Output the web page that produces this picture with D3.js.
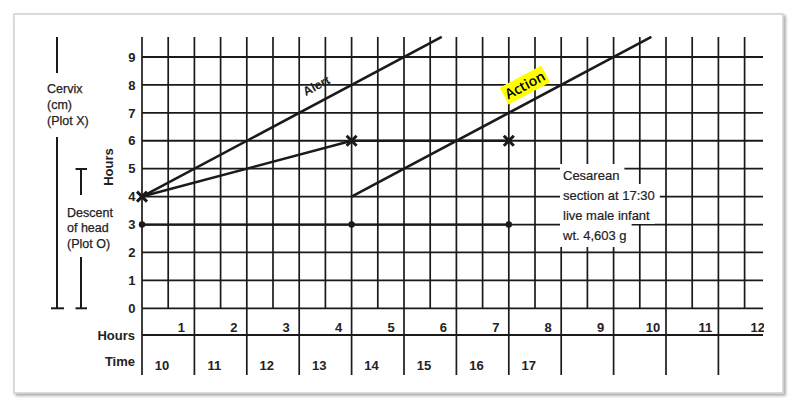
<!DOCTYPE html>
<html>
<head>
<meta charset="utf-8">
<script src="https://cdn.jsdelivr.net/npm/d3@7"></script>
<style>
  html, body { margin: 0; padding: 0; background: #fff; }
  svg { display: block; font-family: "Liberation Sans", Arial, sans-serif; }
</style>
</head>
<body>
<svg id="chart" width="800" height="412"></svg>
<script>
// ---------- data ----------
const cervixHours = [0, 4, 7];
const cervixValues = [4, 6, 6];
const descentHours = [0, 4, 7];
const descentValues = [3, 3, 3];
const alertHours = [0, 5.72];
const alertValues = [4, 9.72];
const actionHours = [4, 9.72];
const actionValues = [4, 9.72];
const yTickValues = [0, 1, 2, 3, 4, 5, 6, 7, 8, 9];
const hourLabels = ["1", "2", "3", "4", "5", "6", "7", "8", "9", "10", "11", "12"];
const timeLabels = ["10", "11", "12", "13", "14", "15", "16", "17"];
const noteLines = ["Cesarean", "section at 17:30", "live male infant", "wt. 4,603 g"];

// ---------- layout ----------
const svg = d3.select("#chart");
const x = d3.scaleLinear().domain([0, 12]).range([142, 770.8]);
const y = d3.scaleLinear().domain([0, 9]).range([308.3, 57]);
const gridTop = 37, hoursRowBottom = 335, timeRowBottom = 375, gridRight = 763;
const ink = "#1a1a1a";

// frame with shadow
const defs = svg.append("defs");
const f = defs.append("filter").attr("id", "sh").attr("x", "-5%").attr("y", "-5%").attr("width", "110%").attr("height", "115%");
f.append("feDropShadow").attr("dx", 2).attr("dy", 2).attr("stdDeviation", 1.6).attr("flood-color", "#000").attr("flood-opacity", 0.35);
defs.append("clipPath").attr("id", "clipR").append("rect").attr("x", 0).attr("y", 0).attr("width", gridRight + 1).attr("height", 412);

svg.append("rect").attr("x", 14).attr("y", 14).attr("width", 769).attr("height", 379)
  .attr("fill", "#fff").attr("stroke", "#cfcfcf").attr("stroke-width", 1.5).attr("filter", "url(#sh)");

const g = svg.append("g");

// ---------- grid ----------
const halfHours = d3.range(0, 11.51, 0.5);
g.selectAll(".vgrid").data(halfHours).join("line")
  .attr("x1", d => x(d)).attr("x2", d => x(d))
  .attr("y1", gridTop).attr("y2", y(0))
  .attr("stroke", ink).attr("stroke-width", 1.7);

const fullHours = d3.range(0, 12);
g.selectAll(".vrow").data(fullHours).join("line")
  .attr("x1", d => x(d)).attr("x2", d => x(d))
  .attr("y1", y(0)).attr("y2", timeRowBottom)
  .attr("stroke", ink).attr("stroke-width", 1.7);

g.selectAll(".hgrid").data(yTickValues).join("line")
  .attr("x1", x(0)).attr("x2", gridRight)
  .attr("y1", d => y(d)).attr("y2", d => y(d))
  .attr("stroke", ink).attr("stroke-width", 1.8);

g.append("line").attr("x1", x(0)).attr("x2", gridRight)
  .attr("y1", hoursRowBottom).attr("y2", hoursRowBottom)
  .attr("stroke", ink).attr("stroke-width", 1.8);

// ---------- axis labels ----------
g.selectAll(".ytick").data(yTickValues).join("text")
  .attr("x", 135.5).attr("y", d => y(d)).attr("dy", "0.36em")
  .attr("text-anchor", "end").attr("font-size", 13).attr("font-weight", "bold").attr("fill", "#222")
  .text(d => d);

const clipG = g.append("g").attr("clip-path", "url(#clipR)");
clipG.selectAll(".hlab").data(hourLabels).join("text")
  .attr("x", (d, i) => x(i + 1) - 13).attr("y", 331.5)
  .attr("text-anchor", "middle").attr("font-size", 13).attr("font-weight", "bold").attr("fill", "#222")
  .text(d => d);

g.selectAll(".tlab").data(timeLabels).join("text")
  .attr("x", (d, i) => x(i) + 20).attr("y", 370)
  .attr("text-anchor", "middle").attr("font-size", 13).attr("font-weight", "bold").attr("fill", "#222")
  .text(d => d);

g.append("text").attr("x", 135).attr("y", 339.5).attr("text-anchor", "end")
  .attr("font-size", 13).attr("font-weight", "bold").attr("fill", "#222").text("Hours");
g.append("text").attr("x", 135).attr("y", 366).attr("text-anchor", "end")
  .attr("font-size", 13).attr("font-weight", "bold").attr("fill", "#222").text("Time");

g.append("text").attr("transform", "translate(113,167) rotate(-90)")
  .attr("text-anchor", "middle").attr("font-size", 13).attr("font-weight", "bold").attr("fill", "#222").text("Hours");

// left side legends
const leftText = (lines, x0, ys) => lines.forEach((t, i) =>
  g.append("text").attr("x", x0).attr("y", ys[i]).attr("font-size", 12.5).attr("fill", "#222")
    .attr("stroke", "#222").attr("stroke-width", 0.25).text(t));
leftText(["Cervix", "(cm)", "(Plot X)"], 47, [93, 108.5, 124.5]);
leftText(["Descent", "of head", "(Plot O)"], 67, [216.5, 232, 247.5]);

const seg = (x1, y1, x2, y2) => g.append("line").attr("x1", x1).attr("y1", y1).attr("x2", x2).attr("y2", y2)
  .attr("stroke", ink).attr("stroke-width", 2);
seg(57, gridTop, 57, 73);
seg(57, 137, 57, y(0));
seg(51, y(0), 64, y(0));
seg(81, 169, 81, 195);
seg(75.5, 169, 87, 169);
seg(81, 257, 81, y(0));
seg(75.5, y(0), 87, y(0));

// ---------- reference lines ----------
const line = d3.line().x(d => x(d[0])).y(d => y(d[1]));
g.append("path").datum(d3.zip(alertHours, alertValues)).attr("d", line)
  .attr("fill", "none").attr("stroke", ink).attr("stroke-width", 2.6);
g.append("path").datum(d3.zip(actionHours, actionValues)).attr("d", line)
  .attr("fill", "none").attr("stroke", ink).attr("stroke-width", 2.6);

// slope angle for labels
const ang = Math.atan2(y(0) - y(1), x(1) - x(0)) * 180 / Math.PI;
const rad = ang * Math.PI / 180;
const nx = -Math.sin(rad), ny = -Math.cos(rad);

const alertH = 3.47;
const ap = [x(alertH) + nx * 16, y(4 + alertH) + ny * 16];
g.append("text").attr("transform", `translate(${ap[0]},${ap[1]}) rotate(${-ang})`)
  .attr("text-anchor", "middle").attr("dy", "0.35em")
  .attr("font-size", 12.5).attr("font-weight", "bold").attr("fill", "#222").text("Alert");

const actH = 7.46;
const cp = [x(actH) + nx * 17, y(actH) + ny * 17];
const actG = g.append("g").attr("transform", `translate(${cp[0]},${cp[1]}) rotate(${-ang})`);
const actT = actG.append("text").attr("text-anchor", "middle").attr("dy", "0.36em")
  .attr("font-family", "'Open Sans', 'Noto Sans', sans-serif")
  .attr("font-size", 14).attr("font-weight", 600).attr("fill", "#000").text("Action");
const bb = actT.node().getBBox();
actG.insert("rect", "text").attr("x", bb.x - 2).attr("y", -9.5).attr("width", bb.width + 4).attr("height", 19)
  .attr("fill", "#ffff00");

// ---------- descent (plot O) ----------
g.append("path").datum(d3.zip(descentHours, descentValues)).attr("d", line)
  .attr("fill", "none").attr("stroke", ink).attr("stroke-width", 2.2);
g.selectAll(".dot").data(d3.zip(descentHours, descentValues)).join("circle")
  .attr("cx", d => x(d[0])).attr("cy", d => y(d[1])).attr("r", 3.2).attr("fill", ink);

// ---------- cervix (plot X) ----------
g.append("path").datum(d3.zip(cervixHours, cervixValues)).attr("d", line)
  .attr("fill", "none").attr("stroke", ink).attr("stroke-width", 2.6);
const s = 5;
g.selectAll(".xm").data(d3.zip(cervixHours, cervixValues)).join("path")
  .attr("d", d => {
    const cx = x(d[0]), cy = y(d[1]);
    return `M${cx - s},${cy - s}L${cx + s},${cy + s}M${cx + s},${cy - s}L${cx - s},${cy + s}`;
  })
  .attr("stroke", ink).attr("stroke-width", 3).attr("fill", "none");

// ---------- note ----------
const noteG = g.append("g");
const noteX = 563, noteY0 = 180, noteDy = 20;
noteLines.forEach((t, i) => {
  const by = noteY0 + i * noteDy;
  const tx = noteG.append("text").attr("x", noteX).attr("y", by)
    .attr("font-size", 13).attr("fill", "#222").attr("stroke", "#222").attr("stroke-width", 0.2).text(t);
  const w = tx.node().getComputedTextLength();
  const top = by - 16, h = i === noteLines.length - 1 ? 23 : 20;
  noteG.insert("rect", "text").attr("x", noteX - 3).attr("y", top).attr("width", w + 8).attr("height", h)
    .attr("fill", "#fff");
});
</script>
</body>
</html>
